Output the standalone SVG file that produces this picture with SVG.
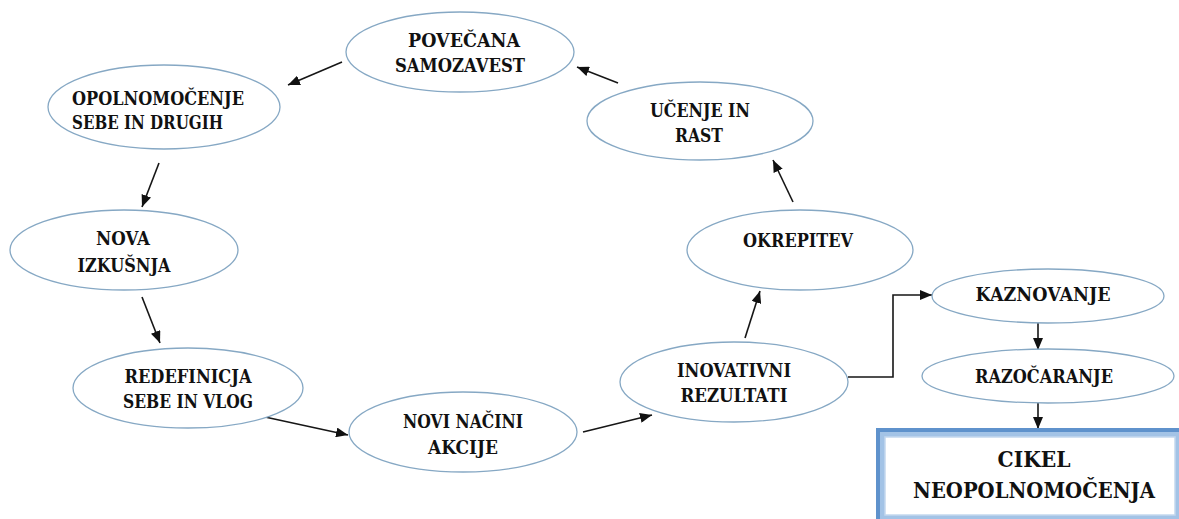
<svg xmlns="http://www.w3.org/2000/svg" width="1179" height="519" viewBox="0 0 1179 519">
<style>
.n ellipse{fill:#fff;stroke:#86a8c4;stroke-width:1.3}
text{font-family:'DejaVu Serif','Liberation Serif',serif;font-weight:700;font-size:19px;fill:#111;text-anchor:middle}
.big{font-size:22px}
.c line,.c polyline{stroke:#161616;stroke-width:1.6;fill:none;marker-end:url(#ah)}
</style>
<defs>
<marker id="ah" markerUnits="userSpaceOnUse" markerWidth="13" markerHeight="10" refX="12" refY="5" orient="auto">
<path d="M0,0 L12,5 L0,10 z" fill="#111"/>
</marker>
</defs>
<rect width="1179" height="519" fill="#fff"/>
<g class="c" id="connectors">
<line x1="342" y1="62" x2="288" y2="85"/>
<line x1="159" y1="163" x2="142" y2="207"/>
<line x1="142" y1="297" x2="160" y2="343"/>
<line x1="265" y1="417" x2="348" y2="435"/>
<line x1="583" y1="432" x2="652" y2="415"/>
<line x1="745" y1="338" x2="760" y2="291"/>
<line x1="793" y1="202" x2="773" y2="160"/>
<line x1="618" y1="83" x2="577" y2="67"/>
<polyline points="848,377 893,377 893,295 932,295"/>
<line x1="1038" y1="323" x2="1038" y2="350"/>
<line x1="1038" y1="403" x2="1038" y2="429"/>
</g>
<g class="n" id="povecana">
<ellipse cx="460" cy="52" rx="114" ry="40"/>
<text x="464" y="47" textLength="112" lengthAdjust="spacingAndGlyphs">POVEČANA</text>
<text x="460" y="72" textLength="130" lengthAdjust="spacingAndGlyphs">SAMOZAVEST</text>
</g>
<g class="n" id="opolnomocenje">
<ellipse cx="164" cy="107" rx="116" ry="42"/>
<text x="72" y="105" style="text-anchor:start" textLength="172" lengthAdjust="spacingAndGlyphs">OPOLNOMOČENJE</text>
<text x="72" y="129" style="text-anchor:start" textLength="151" lengthAdjust="spacingAndGlyphs">SEBE IN DRUGIH</text>
</g>
<g class="n" id="nova">
<ellipse cx="124" cy="250" rx="114" ry="40"/>
<text x="123" y="245" textLength="54" lengthAdjust="spacingAndGlyphs">NOVA</text>
<text x="124" y="272" textLength="93" lengthAdjust="spacingAndGlyphs">IZKUŠNJA</text>
</g>
<g class="n" id="redefinicija">
<ellipse cx="188" cy="388" rx="115" ry="40"/>
<text x="188" y="383" textLength="127" lengthAdjust="spacingAndGlyphs">REDEFINICJA</text>
<text x="188" y="408" textLength="130" lengthAdjust="spacingAndGlyphs">SEBE IN VLOG</text>
</g>
<g class="n" id="novi">
<ellipse cx="463" cy="432" rx="114" ry="40"/>
<text x="463" y="428" textLength="120" lengthAdjust="spacingAndGlyphs">NOVI NAČINI</text>
<text x="463" y="454" textLength="70" lengthAdjust="spacingAndGlyphs">AKCIJE</text>
</g>
<g class="n" id="inovativni">
<ellipse cx="734" cy="382" rx="114" ry="40"/>
<text x="734" y="377" textLength="114" lengthAdjust="spacingAndGlyphs">INOVATIVNI</text>
<text x="734" y="402" textLength="107" lengthAdjust="spacingAndGlyphs">REZULTATI</text>
</g>
<g class="n" id="okrepitev">
<ellipse cx="800" cy="250" rx="113" ry="40"/>
<text x="798" y="247" textLength="110" lengthAdjust="spacingAndGlyphs">OKREPITEV</text>
</g>
<g class="n" id="ucenje">
<ellipse cx="700" cy="121" rx="113" ry="39"/>
<text x="700" y="117" textLength="100" lengthAdjust="spacingAndGlyphs">UČENJE IN</text>
<text x="699" y="142" textLength="48" lengthAdjust="spacingAndGlyphs">RAST</text>
</g>
<g class="n" id="kaznovanje">
<ellipse cx="1048" cy="296" rx="116" ry="27"/>
<text x="1043" y="301" textLength="135" lengthAdjust="spacingAndGlyphs">KAZNOVANJE</text>
</g>
<g class="n" id="razocaranje">
<ellipse cx="1048" cy="376" rx="126" ry="27"/>
<text x="1044" y="383" textLength="138" lengthAdjust="spacingAndGlyphs">RAZOČARANJE</text>
</g>
<g id="cikel">
<rect x="876" y="428" width="303" height="91" fill="#5f92cc"/>
<rect x="880" y="432" width="299" height="87" fill="#a3c3e6"/>
<rect x="885" y="437" width="290" height="78" fill="#fff" stroke="#c3d8ee" stroke-width="1.5"/>
<text class="big" x="1034" y="467" textLength="73" lengthAdjust="spacingAndGlyphs">CIKEL</text>
<text class="big" x="1034" y="498" textLength="242" lengthAdjust="spacingAndGlyphs">NEOPOLNOMOČENJA</text>
</g>
</svg>
